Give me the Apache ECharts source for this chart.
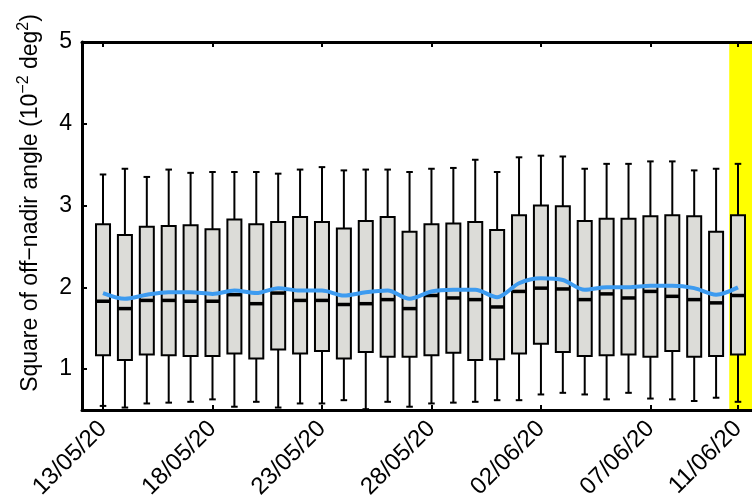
<!DOCTYPE html>
<html>
<head>
<meta charset="utf-8">
<script src="https://cdn.jsdelivr.net/npm/echarts@6/dist/echarts.min.js"></script>
<style>
  html, body { margin: 0; padding: 0; background: #fff; }
  #main { width: 752px; height: 502px; }
</style>
</head>
<body>
<div id="main"></div>
<script>
// 每天一个箱线图，13/05/20 -> 11/06/20
let tickDays = [0, 5, 10, 15, 20, 25, 29]
let tickLabels = ['13/05/20', '18/05/20', '23/05/20', '28/05/20', '02/06/20', '07/06/20', '11/06/20']

let whiskerLow = [0.55, 0.53, 0.58, 0.59, 0.60, 0.63, 0.54, 0.60, 0.53, 0.58,
  0.58, 0.62, 0.51, 0.60, 0.54, 0.58, 0.59, 0.60, 0.62, 0.62,
  0.69, 0.71, 0.69, 0.63, 0.71, 0.64, 0.63, 0.61, 0.65, 0.60]
let q1 = [1.17, 1.11, 1.18, 1.17, 1.16, 1.16, 1.19, 1.13, 1.24, 1.19,
  1.22, 1.13, 1.21, 1.15, 1.15, 1.17, 1.20, 1.11, 1.12, 1.19,
  1.31, 1.21, 1.16, 1.17, 1.18, 1.15, 1.22, 1.15, 1.16, 1.18]
let median = [1.83, 1.74, 1.84, 1.84, 1.83, 1.83, 1.91, 1.80, 1.93, 1.84,
  1.84, 1.79, 1.80, 1.85, 1.74, 1.90, 1.87, 1.85, 1.76, 1.95,
  1.99, 1.98, 1.85, 1.92, 1.87, 1.95, 1.89, 1.85, 1.81, 1.90]
let q3 = [2.77, 2.64, 2.74, 2.75, 2.76, 2.71, 2.83, 2.77, 2.80, 2.86,
  2.80, 2.72, 2.81, 2.86, 2.68, 2.77, 2.78, 2.80, 2.70, 2.88,
  3.00, 2.99, 2.81, 2.84, 2.84, 2.87, 2.88, 2.87, 2.68, 2.88]
let whiskerHigh = [3.38, 3.45, 3.35, 3.44, 3.40, 3.41, 3.41, 3.41, 3.39, 3.44,
  3.47, 3.43, 3.44, 3.44, 3.41, 3.45, 3.46, 3.56, 3.41, 3.59,
  3.61, 3.60, 3.45, 3.51, 3.51, 3.54, 3.54, 3.43, 3.45, 3.51]
let mean = [1.93, 1.86, 1.91, 1.94, 1.94, 1.92, 1.96, 1.93, 1.99, 1.96,
  1.96, 1.90, 1.94, 1.96, 1.86, 1.95, 1.97, 1.97, 1.88, 2.05,
  2.11, 2.09, 1.97, 2.00, 2.00, 2.02, 2.02, 1.99, 1.91, 2.00]

let boxData = q1.map((v, i) => [i, whiskerLow[i], q1[i], median[i], q3[i], whiskerHigh[i]])
let meanData = mean.map((v, i) => [i, v])

let xMin = -0.96
let xMax = 29.64
let font = 'Liberation Sans, Arial, sans-serif'

// 箱子：须线 + 短横帽 + 灰色箱体 + 粗中位线
function renderBox(params, api) {
  let x = api.value(0)
  let day = api.size([1, 0])[0]
  let bw = day * 0.64
  let cw = day * 0.3
  let pLow = api.coord([x, api.value(1)])
  let pQ1 = api.coord([x, api.value(2)])
  let pMed = api.coord([x, api.value(3)])
  let pQ3 = api.coord([x, api.value(4)])
  let pHigh = api.coord([x, api.value(5)])
  let cx = pQ1[0]
  let line = { stroke: '#000', lineWidth: 2 }
  return {
    type: 'group',
    children: [
      { type: 'line', shape: { x1: cx, y1: pLow[1], x2: cx, y2: pQ1[1] }, style: line },
      { type: 'line', shape: { x1: cx, y1: pQ3[1], x2: cx, y2: pHigh[1] }, style: line },
      { type: 'line', shape: { x1: cx - cw / 2, y1: pLow[1], x2: cx + cw / 2, y2: pLow[1] }, style: line },
      { type: 'line', shape: { x1: cx - cw / 2, y1: pHigh[1], x2: cx + cw / 2, y2: pHigh[1] }, style: line },
      {
        type: 'rect',
        shape: { x: cx - bw / 2, y: pQ3[1], width: bw, height: pQ1[1] - pQ3[1] },
        style: { fill: '#dcdcd8', stroke: '#000', lineWidth: 2 },
      },
      { type: 'line', shape: { x1: cx - bw / 2, y1: pMed[1], x2: cx + bw / 2, y2: pMed[1] }, style: { stroke: '#000', lineWidth: 3.5 } },
    ],
  }
}

var myChart = echarts.init(document.getElementById('main'))
var option = {
  animation: false,
  grid: { left: 82, right: 0, top: 42, bottom: 92 },
  xAxis: [
    {
      type: 'value',
      min: xMin,
      max: xMax,
      z: 10,
      splitLine: { show: false },
      axisLine: { show: true, onZero: false, lineStyle: { color: '#000', width: 3 } },
      axisTick: { inside: true, length: 5, customValues: tickDays, lineStyle: { color: '#000', width: 2 } },
      axisLabel: {
        customValues: tickDays,
        formatter: (v) => tickLabels[tickDays.indexOf(v)],
        rotate: 45,
        color: '#000',
        fontSize: 24,
        fontFamily: font,
        margin: 15,
      },
    },
    {
      type: 'value',
      position: 'top',
      min: xMin,
      max: xMax,
      z: 10,
      splitLine: { show: false },
      axisLine: { show: true, onZero: false, lineStyle: { color: '#000', width: 3 } },
      axisTick: { inside: true, length: 5, customValues: tickDays, lineStyle: { color: '#000', width: 2 } },
      axisLabel: { show: false },
    },
  ],
  yAxis: {
    type: 'value',
    min: 0.5,
    max: 5,
    z: 10,
    splitLine: { show: false },
    axisLine: { show: true, onZero: false, lineStyle: { color: '#000', width: 3 } },
    axisTick: { inside: true, length: 5, customValues: [1, 2, 3, 4, 5], lineStyle: { color: '#000', width: 2 } },
    axisLabel: { customValues: [1, 2, 3, 4, 5], color: '#000', fontSize: 23, fontFamily: font, margin: 10 },
    name: '{a|Square of off\u2212nadir angle (10}{s|\u22122}{a| deg}{s|2}{a|)}',
    nameLocation: 'middle',
    nameGap: 36,
    nameTextStyle: {
      color: '#000',
      fontFamily: font,
      padding: [0, 0, 0, 46],
      rich: {
        a: { fontSize: 23, fontFamily: font, color: '#000', lineHeight: 30 },
        s: { fontSize: 16, fontFamily: font, color: '#000', verticalAlign: 'top', lineHeight: 30 },
      },
    },
  },
  series: [
    {
      // 黄色高亮：11/06
      type: 'line',
      data: [],
      z: 1,
      markArea: {
        silent: true,
        itemStyle: { color: '#ffff00', opacity: 1 },
        data: [[{ xAxis: 28.6, yAxis: 0.5 }, { xAxis: xMax, yAxis: 5 }]],
      },
    },
    {
      type: 'custom',
      renderItem: renderBox,
      data: boxData,
      encode: { x: 0, y: [1, 2, 3, 4, 5] },
      z: 3,
    },
    {
      type: 'line',
      data: meanData,
      smooth: 0.3,
      showSymbol: false,
      z: 4,
      lineStyle: { color: '#3d9bf0', width: 4 },
    },
  ],
}
myChart.setOption(option)
</script>
</body>
</html>
